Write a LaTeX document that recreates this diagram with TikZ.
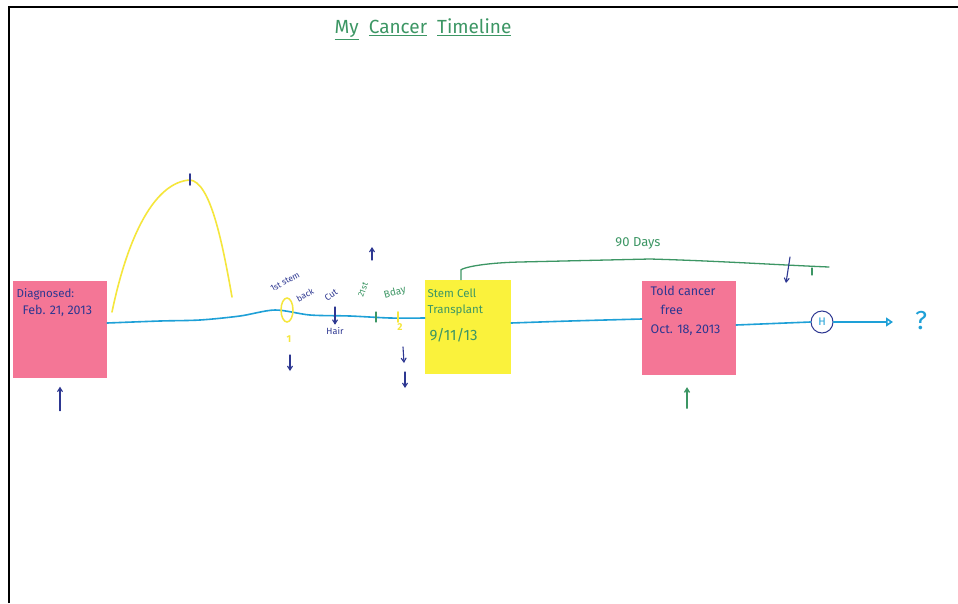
\documentclass[tikz,border=0pt]{standalone}
\usepackage{fontspec}
\setmainfont{Fira Sans}
\usetikzlibrary{arrows.meta,shapes.geometric}
\definecolor{pinkpad}{RGB}{244,118,150}
\definecolor{yellowpad}{RGB}{250,242,60}
\definecolor{penblue}{RGB}{30,160,215}
\definecolor{pennavy}{RGB}{45,55,145}
\definecolor{pengreen}{RGB}{60,150,100}
\definecolor{penyellow}{RGB}{245,230,60}
\tikzset{
  pad/.style={draw=none, inner sep=0pt},
  bluepen/.style={draw=penblue, line width=1.6pt, line cap=round},
  navypen/.style={draw=pennavy, line width=1.1pt, line cap=round},
  greenpen/.style={draw=pengreen, line width=1.3pt, line cap=round},
  yellowpen/.style={draw=penyellow, line width=1.6pt, line cap=round},
  barb/.style={-{Straight Barb[length=4pt,width=5pt]}},
  navytxt/.style={text=pennavy, font=\fontsize{9}{10}\selectfont, inner sep=0.5pt},
  greentxt/.style={text=pengreen, font=\fontsize{9}{10}\selectfont, inner sep=0.5pt},
  yellowtxt/.style={text=penyellow, font=\bfseries\fontsize{10}{10}\selectfont, inner sep=1pt}
}
\begin{document}
\begin{tikzpicture}[x=1pt,y=-1pt]
\useasboundingbox (0,0) rectangle (958,603);
\fill[white] (0,0) rectangle (958,603);
\draw[line width=2.5pt] (9,603) -- (9,7) -- (958,7);

% title
\node[text=pengreen, font=\fontsize{19}{20}\selectfont] (title) at (423,29)
  {\underline{My}\ \ \underline{Cancer}\ \ \underline{Timeline}};

% sticky notes
\node[pad, fill=pinkpad, minimum width=94pt, minimum height=97pt] (diag) at (60,329) {};
\node[pad, fill=yellowpad, minimum width=86pt, minimum height=94pt] (stem) at (468,327) {};
\node[pad, fill=pinkpad, minimum width=94pt, minimum height=94pt] (free) at (689,328) {};

\node[navytxt, anchor=west, font=\fontsize{11.5}{12}\selectfont] (diagA) at (16,294) {Diagnosed:};
\node[navytxt, anchor=west, font=\fontsize{12.5}{13}\selectfont] (diagB) at (22,311) {Feb. 21, 2013};

\node[greentxt, anchor=west, align=left, font=\fontsize{11.5}{16}\selectfont] (stemA) at (427,302) {Stem Cell\\ Transplant};
\node[greentxt, anchor=west, font=\fontsize{15}{16}\selectfont] (stemB) at (429,335) {9/11/13};

\node[navytxt, anchor=west, align=left, font=\fontsize{12.5}{19}\selectfont] (freeA) at (650,311) {Told cancer\\ \hspace*{10pt}free\\ Oct. 18, 2013};

% yellow arc
\coordinate (arcA) at (112,312);
\coordinate (arcTop) at (190,180);
\coordinate (arcB) at (232,297);
\draw[yellowpen] (arcA) .. controls (128,235) and (155,182) .. (arcTop)
  .. controls (210,182) and (222,240) .. (arcB);
\draw[navypen, line width=1.6pt] ([yshift=-5]arcTop) -- ([yshift=6]arcTop);

% timeline
\draw[bluepen] plot[smooth, tension=0.5] coordinates {([yshift=6]diag.east) (160,321) (200,320) (240,316) (275,310) (310,315) (350,316) (390,318) ([yshift=9]stem.west)};
\draw[bluepen] plot[smooth, tension=0.5] coordinates {([yshift=4]stem.east) (570,321) ([yshift=9]free.west)};
\node[draw=pennavy, line width=1pt, circle, minimum size=22pt, inner sep=0pt, text=penblue, font=\fontsize{11}{11}\selectfont] (hcirc) at (822,322) {H};
\node[text=penblue, font=\fontsize{26}{26}\selectfont, inner sep=0pt] (q) at (921,321) {?};
\coordinate (tend) at (893,322);
\draw[bluepen] ([yshift=3]free.east) -- (hcirc.west);
\draw[bluepen, -{Triangle[open,length=7pt,width=9pt]}] (hcirc.east) -- (tend);

% first stem back
\node[draw=penyellow, line width=1.5pt, ellipse, minimum width=12pt, minimum height=24pt, inner sep=0pt] (ell) at (287,310) {};
\node[navytxt, rotate=28, font=\fontsize{8.5}{8}\selectfont] (stemback1) at (285,282) {1st stem};
\node[navytxt, rotate=28, font=\fontsize{8.5}{8}\selectfont] (stemback2) at (305,295) {back};
\node[yellowtxt] (one) at (289,339) {1};
\coordinate (d1a) at (290,355);
\coordinate (d1b) at (290,371);
\draw[navypen, barb] (d1a) -- (d1b);

% cut hair
\node[navytxt, rotate=35, font=\fontsize{9}{9}\selectfont] (cut) at (331,295) {Cut};
\node[navytxt, font=\fontsize{9}{9}\selectfont] (hair) at (335,331) {Hair};
\coordinate (cutA) at (335,307);
\draw[navypen, barb] (cutA) -- ([yshift=2]hair.north);

% 21st bday
\coordinate (gtick) at (376,317);
\draw[greenpen] ([yshift=-5]gtick) -- ([yshift=5]gtick);
\node[greentxt, rotate=70, font=\fontsize{8.5}{9}\selectfont] (bday1) at (363,290) {21st};
\node[greentxt, rotate=15, font=\fontsize{10}{10}\selectfont] (bday2) at (395,293) {Bday};
\coordinate (upA) at (372,260);
\coordinate (upB) at (372,247);
\draw[navypen, barb] (upA) -- (upB);

% second yellow mark
\coordinate (ytick) at (398,317);
\draw[yellowpen] ([yshift=-5]ytick) -- ([yshift=5]ytick);
\node[yellowtxt] (two) at (400,327) {2};
\coordinate (d2a) at (403,347);
\coordinate (d2b) at (404,363);
\coordinate (d3a) at (405,372);
\coordinate (d3b) at (405,388);
\draw[navypen, barb] (d2a) -- (d2b);
\draw[navypen, barb] (d3a) -- (d3b);

% 90 days bracket
\node[greentxt, font=\fontsize{13}{13}\selectfont] (ninety) at (638,243) {90 Days};
\coordinate (brEnd) at (829,267);
\draw[greenpen] ([xshift=-7]stem.north) -- ([xshift=-7,yshift=10]stem.north)
  .. controls (463,268) and (480,263) .. (520,262) -- (650,259)
  .. controls (720,261) and (780,265) .. (brEnd);
\coordinate (gt2) at (812,268);
\draw[greenpen] (gt2) -- ([yshift=-7]gt2);
\coordinate (navA) at (790,257);
\coordinate (navB) at (786,283);
\draw[navypen, barb] (navA) -- (navB);

% up arrows under notes
\draw[navypen, barb] ([yshift=-33]diag.south) -- ([yshift=-9]diag.south);
\draw[greenpen, barb] ([yshift=-33,xshift=-2]free.south) -- ([yshift=-12,xshift=-2]free.south);
\end{tikzpicture}
\end{document}
